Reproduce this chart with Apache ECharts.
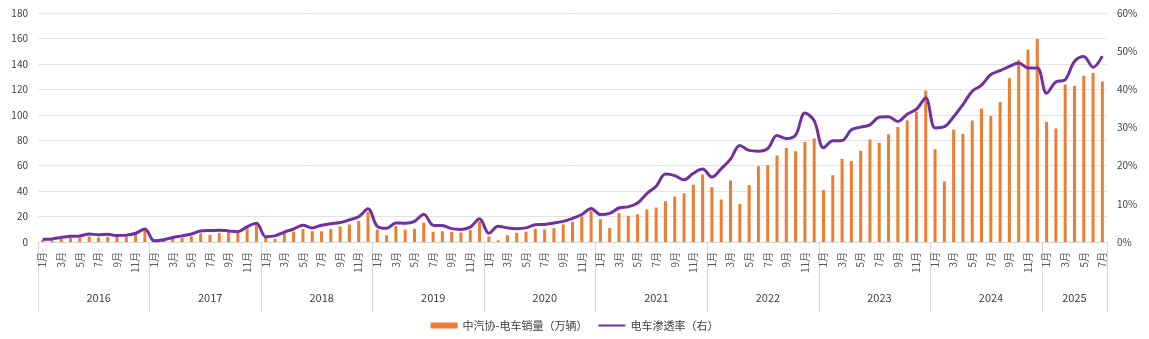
<!DOCTYPE html>
<html>
<head>
<meta charset="utf-8">
<script src="https://cdn.jsdelivr.net/npm/echarts@6/dist/echarts.min.js"></script>
<style>html,body{margin:0;padding:0;background:#fff}#c{width:1149px;height:339px}</style>
</head>
<body>
<div id="c"></div>
<script>
const years = [2016, 2017, 2018, 2019, 2020, 2021, 2022, 2023, 2024, 2025];
const monthsPerYear = [12, 12, 12, 12, 12, 12, 12, 12, 12, 7];
const leftTicks = [0, 20, 40, 60, 80, 100, 120, 140, 160, 180];
const rightTicks = [0, 10, 20, 30, 40, 50, 60];

const sales = [
  1.7, 1.3, 2.9, 3.1, 3.3, 4.4, 3.5, 4.2, 4.4, 4.6, 6.8, 10.4,
  0.6, 1.0, 3.1, 3.4, 4.5, 6.7, 5.6, 6.9, 7.8, 7.1, 11.5, 14.5,
  3.5, 2.5, 6.8, 8.2, 10.2, 8.4, 8.4, 10.1, 12.1, 13.8, 16.5, 23.6,
  9.6, 5.3, 12.6, 9.7, 10.4, 15.2, 8.0, 8.5, 8.0, 7.5, 9.5, 16.3,
  4.4, 1.3, 5.3, 7.2, 8.2, 10.4, 9.8, 10.9, 13.8, 16.0, 20.0, 24.8,
  17.9, 11.0, 22.6, 20.6, 21.7, 25.6, 27.1, 32.1, 35.7, 38.3, 45.0, 53.1,
  43.1, 33.4, 48.4, 29.9, 44.7, 59.6, 60.5, 68.0, 74.0, 71.4, 78.6, 81.4,
  40.8, 52.5, 65.3, 63.6, 71.7, 80.6, 78.0, 84.6, 90.4, 95.6, 102.6, 119.1,
  72.9, 47.7, 88.3, 85.0, 95.5, 104.9, 99.1, 110.0, 128.7, 143.0, 151.2, 159.6,
  94.4, 89.2, 123.7, 122.6, 130.7, 132.9, 126.2
];
const penetration = [
  0.7, 0.8, 1.2, 1.5, 1.6, 2.1, 1.9, 2.0, 1.7, 1.8, 2.3, 3.4,
  0.3, 0.6, 1.2, 1.6, 2.1, 2.9, 3.0, 3.1, 2.9, 2.7, 4.0, 4.9,
  1.4, 1.6, 2.6, 3.4, 4.4, 3.7, 4.4, 4.8, 5.1, 5.8, 6.6, 8.7,
  4.1, 3.6, 5.0, 4.9, 5.4, 7.3, 4.4, 4.3, 3.5, 3.3, 3.9, 6.1,
  2.3, 4.1, 3.7, 3.5, 3.7, 4.5, 4.6, 5.0, 5.4, 6.2, 7.2, 8.8,
  7.2, 7.5, 8.9, 9.2, 10.2, 12.7, 14.6, 17.8, 17.4, 16.3, 18.0, 19.1,
  17.0, 19.2, 21.7, 25.3, 24.0, 23.8, 24.5, 27.9, 27.1, 28.0, 33.8, 31.8,
  24.7, 26.5, 26.6, 29.4, 30.1, 30.7, 32.7, 32.8, 31.6, 33.5, 34.8, 37.7,
  29.9, 30.2, 32.8, 36.0, 39.5, 41.1, 43.9, 44.9, 46.0, 46.9, 45.6, 45.6,
  39.0, 41.9, 42.5, 47.3, 48.6, 45.8, 48.7
];

const categories = [];
const catYear = [];
const catMonth = [];
years.forEach((y, yi) => {
  for (let m = 1; m <= monthsPerYear[yi]; m++) {
    categories.push(y + '-' + m);
    catYear.push(y);
    catMonth.push(m);
  }
});
function yearLabelIndex(i) {
  const yi = years.indexOf(catYear[i]);
  const n = monthsPerYear[yi];
  return catMonth[i] === Math.floor((n + 1) / 2) ? (n % 2 === 0 ? 'even' : 'odd') : null;
}

const FONT = '"Noto Sans CJK SC", "Noto Sans", sans-serif';
const chart = echarts.init(document.getElementById('c'), null, {renderer: 'canvas'});
chart.setOption({
  animation: false,
  textStyle: {fontFamily: FONT},
  grid: {left: 38, right: 42, top: 13, bottom: 97, containLabel: false},
  legend: {
    bottom: 3, left: 'center', itemGap: 10,
    itemWidth: 27, itemHeight: 6,
    textStyle: {fontSize: 11, color: '#404040', fontFamily: FONT},
    data: [
      {name: '中汽协-电车销量（万辆）', icon: 'rect'},
      {name: '电车渗透率（右）', itemStyle: {opacity: 0}}
    ]
  },
  xAxis: [
    {
      type: 'category', data: categories, boundaryGap: true,
      axisLine: {show: true, lineStyle: {color: '#d9d9d9'}},
      axisTick: {
        show: true, length: 70, lineStyle: {color: '#d9d9d9'},
        interval: (i) => catMonth[i] === 1
      },
      axisLabel: {
        interval: (i) => catMonth[i] % 2 === 1,
        rotate: 90, fontSize: 10, color: '#595959', margin: 10,
        formatter: (v, i) => catMonth[i] + '月'
      },
      splitLine: {show: false}
    },
    {
      type: 'category', data: categories, boundaryGap: true, position: 'bottom',
      axisLine: {show: false}, axisTick: {show: false},
      axisLabel: {
        interval: (i) => yearLabelIndex(i) !== null,
        fontSize: 11, color: '#404040', margin: 50,
        formatter: (v, i) => {
          const k = yearLabelIndex(i);
          return k === 'even' ? '{e|' + catYear[i] + '}' : String(catYear[i]);
        },
        rich: {e: {fontSize: 11, color: '#404040', padding: [0, 0, 0, 19], fontFamily: FONT}}
      }
    }
  ],
  yAxis: [
    {
      type: 'value', min: leftTicks[0], max: leftTicks[leftTicks.length - 1], interval: 20,
      axisLine: {show: false}, axisTick: {show: false},
      axisLabel: {fontSize: 10, color: '#404040', margin: 10},
      splitLine: {lineStyle: {color: '#e3e3e3', width: 1}}
    },
    {
      type: 'value', min: rightTicks[0], max: rightTicks[rightTicks.length - 1], interval: 10,
      position: 'right',
      axisLine: {show: false}, axisTick: {show: false},
      axisLabel: {fontSize: 10, color: '#404040', margin: 10, formatter: '{value}%'},
      splitLine: {show: false}
    }
  ],
  series: [
    {
      name: '中汽协-电车销量（万辆）', type: 'bar', data: sales,
      xAxisIndex: 0, yAxisIndex: 0,
      barWidth: 3, itemStyle: {color: '#ED7D31'}
    },
    {
      name: '电车渗透率（右）', type: 'line', data: penetration,
      xAxisIndex: 0, yAxisIndex: 1,
      smooth: 0.35, symbol: 'none',
      lineStyle: {color: '#7030A0', width: 3},
      itemStyle: {color: '#7030A0'}
    }
  ]
});
</script>
</body>
</html>
